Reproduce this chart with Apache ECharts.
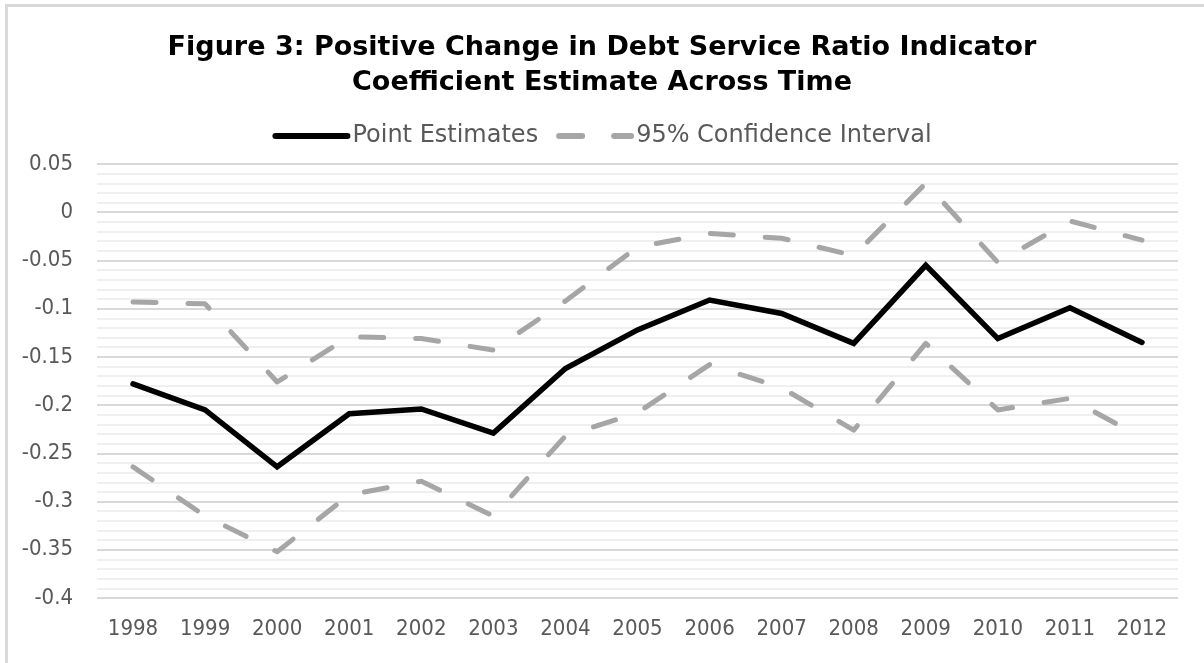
<!DOCTYPE html>
<html>
<head>
<meta charset="utf-8">
<script src="https://cdn.jsdelivr.net/npm/echarts@6/dist/echarts.min.js"></script>
<style>
html,body{margin:0;padding:0;background:#fff;}
#frame{position:absolute;left:5px;top:4px;width:1210px;height:670px;box-sizing:border-box;border-style:solid;border-width:3px 0 0 3px;border-color:#d9d9d9;}
#chart{position:absolute;left:0;top:0;width:1204px;height:663px;}
</style>
</head>
<body>
<div id="frame"></div>
<div id="chart"></div>
<script>
const years = ['1998','1999','2000','2001','2002','2003','2004','2005','2006','2007','2008','2009','2010','2011','2012'];
const pointEstimates = [-0.178, -0.205, -0.264, -0.209, -0.204, -0.229, -0.162, -0.122, -0.091, -0.105, -0.136, -0.055, -0.131, -0.099, -0.135];
const ciUpper = [-0.093, -0.095, -0.176, -0.129, -0.131, -0.143, -0.092, -0.036, -0.022, -0.027, -0.045, 0.030, -0.052, -0.009, -0.029];
const ciLower = [-0.264, -0.315, -0.352, -0.293, -0.279, -0.315, -0.232, -0.208, -0.158, -0.182, -0.226, -0.136, -0.205, -0.193, -0.234];
const yTickLabels = ['-0.4','-0.35','-0.3','-0.25','-0.2','-0.15','-0.1','-0.05','0','0.05'];

const AXISFONT = '"DejaVu Sans Condensed", "DejaVu Sans", sans-serif';
const FONT = '"DejaVu Sans", sans-serif';
const chart = echarts.init(document.getElementById('chart'), null, {renderer:'canvas'});
const dash = {color:'#a6a6a6', width:5, type:[23,32], cap:'round', join:'round'};
chart.setOption({
  backgroundColor:'transparent',
  animation:false,
  title:{
    text:'Figure 3: Positive Change in Debt Service Ratio Indicator\nCoefficient Estimate Across Time',
    left:'center', top:25,
    textStyle:{fontFamily:FONT, fontWeight:'bold', fontSize:27, color:'#000', lineHeight:35}
  },
  legend:{
    top:119, left:'center',
    itemWidth:72, itemHeight:6, itemGap:18,
    itemStyle:{opacity:0},
    lineStyle:{width:6, cap:'round'},
    textStyle:{fontFamily:FONT, fontSize:24, color:'#595959'},
    data:['Point Estimates','95% Confidence Interval']
  },
  grid:{left:97, right:26, top:164, bottom:65, containLabel:false},
  xAxis:{
    type:'category', data:years, boundaryGap:true,
    axisLine:{show:false}, axisTick:{show:false},
    axisLabel:{fontFamily:AXISFONT, fontSize:22, color:'#595959', margin:20}
  },
  yAxis:{
    type:'value', min:-0.4, max:0.05, interval:0.05,
    axisLine:{show:false}, axisTick:{show:false},
    axisLabel:{fontFamily:AXISFONT, fontSize:22, color:'#595959', margin:24,
      formatter:function(v){ const s = String(parseFloat(v.toFixed(2))); return yTickLabels.indexOf(s) >= 0 ? s : ''; }},
    splitLine:{show:true, lineStyle:{color:'#d9d9d9', width:2}},
    minorTick:{show:false, splitNumber:5},
    minorSplitLine:{show:true, lineStyle:{color:'#efefef', width:2}}
  },
  series:[
    {name:'Point Estimates', type:'line', data:pointEstimates, symbol:'none', z:5,
     lineStyle:{color:'#000', width:5.5, cap:'round', join:'miter'}, itemStyle:{color:'#000'}},
    {name:'95% Confidence Interval', type:'line', data:ciUpper, symbol:'none', z:3,
     lineStyle:dash, itemStyle:{color:'#a6a6a6'}},
    {name:'95% Confidence Interval', type:'line', data:ciLower, symbol:'none', z:3,
     lineStyle:dash, itemStyle:{color:'#a6a6a6'}}
  ]
});
</script>
</body>
</html>
